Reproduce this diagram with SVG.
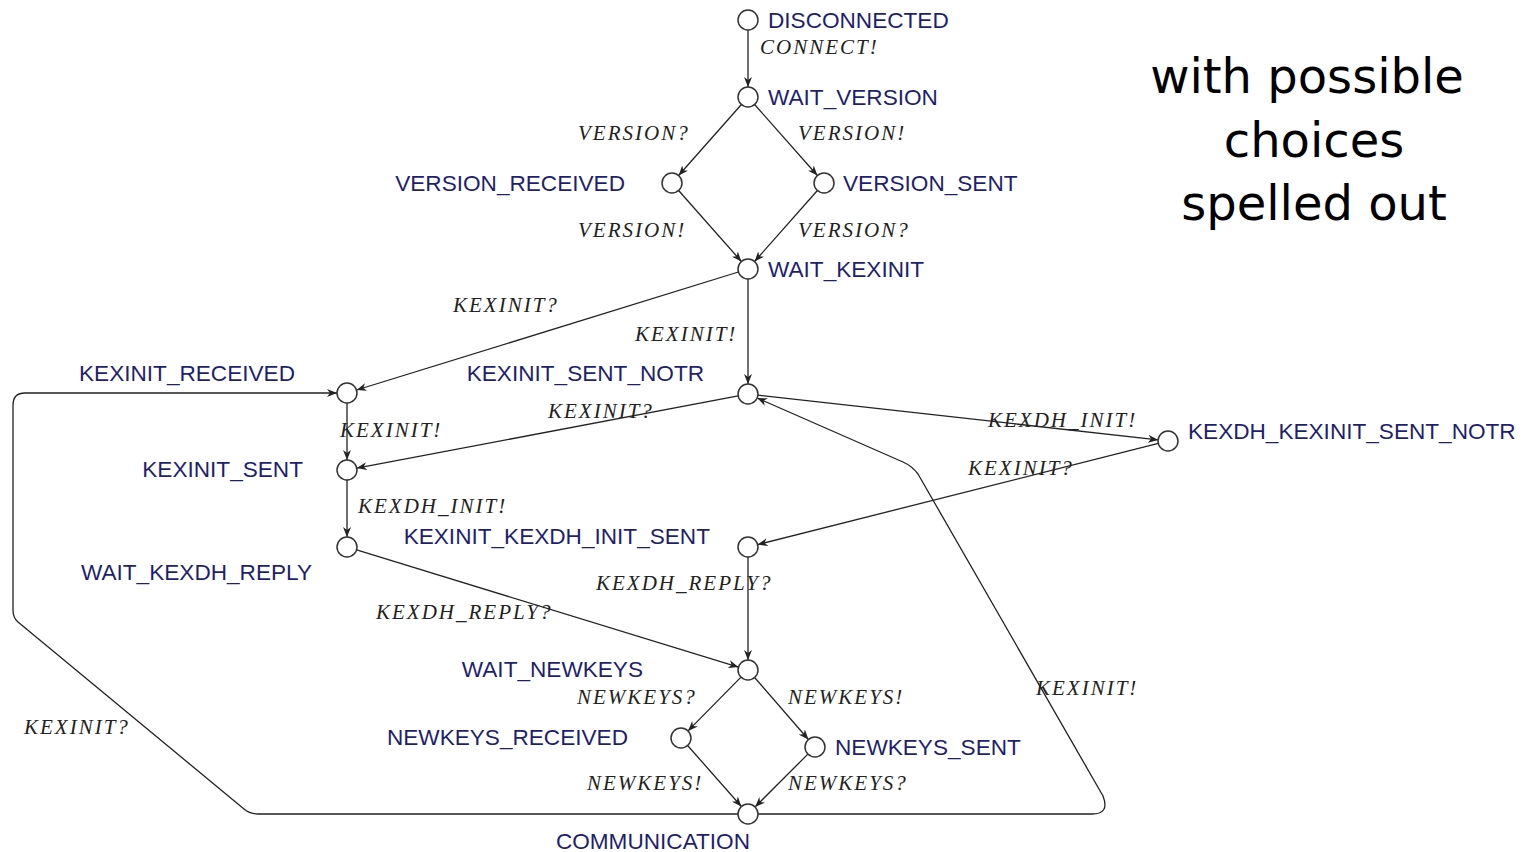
<svg xmlns="http://www.w3.org/2000/svg" width="1529" height="852" viewBox="0 0 1529 852">
  <defs>
    <marker id="arr" viewBox="0 0 10 8" refX="10" refY="4" markerWidth="10" markerHeight="8" orient="auto" markerUnits="userSpaceOnUse">
      <path d="M0,0 L10,4 L0,8 L3,4 z" fill="#222"/>
    </marker>
    <style>
      .st { fill: #fff; stroke: #333; stroke-width: 1.5; }
      .nl { font-family: "Liberation Sans", Arial, sans-serif; font-size: 22.6px; fill: #1f1f6e; }
      .el { font-family: "Liberation Serif", "Times New Roman", serif; font-style: italic; font-size: 21px; letter-spacing: 2px; fill: #222; }
      .tr { fill: none; stroke: #222; stroke-width: 1.3; marker-end: url(#arr); }
      .note { font-family: "DejaVu Sans", sans-serif; font-size: 48px; fill: #000; text-anchor: middle; }
    </style>
  </defs>
  <rect width="1529" height="852" fill="#fff"/>

  <!-- transitions -->
  <g id="connectors">
    <line class="tr" x1="748" y1="30" x2="748" y2="87"/>
    <line class="tr" x1="741.4" y1="104.5" x2="678.6" y2="175.5"/>
    <line class="tr" x1="754.6" y1="104.5" x2="817.4" y2="175.5"/>
    <line class="tr" x1="678.6" y1="190.5" x2="741.4" y2="261.5"/>
    <line class="tr" x1="817.4" y1="190.5" x2="754.6" y2="261.5"/>
    <line class="tr" x1="738.4" y1="272" x2="356.6" y2="390"/>
    <line class="tr" x1="748" y1="279" x2="748" y2="384"/>
    <line class="tr" x1="347" y1="403" x2="347" y2="460"/>
    <line class="tr" x1="738.2" y1="395.9" x2="356.8" y2="468.1"/>
    <line class="tr" x1="757.9" y1="395.1" x2="1158.1" y2="439.9"/>
    <line class="tr" x1="1158.3" y1="443.4" x2="757.7" y2="544.6"/>
    <line class="tr" x1="347" y1="480" x2="347" y2="537"/>
    <line class="tr" x1="356.6" y1="549.9" x2="738.4" y2="667.1"/>
    <line class="tr" x1="748" y1="557" x2="748" y2="660"/>
    <line class="tr" x1="741" y1="677.1" x2="688" y2="730.9"/>
    <line class="tr" x1="754.6" y1="677.5" x2="808.4" y2="739.5"/>
    <line class="tr" x1="687.6" y1="745.5" x2="741.4" y2="806.5"/>
    <line class="tr" x1="807.9" y1="754.1" x2="755.1" y2="806.9"/>
    <!-- rekey loops from COMMUNICATION -->
    <path class="tr" d="M738,814 L258,814 Q250,814 244,809 L18,622 Q13,618 13,610 L13,405 Q13,393 25,393 L337,393"/>
    <path class="tr" d="M758,814 L1092,814 Q1110,814 1103,796 L918,474 Q912,466 903,462 L757.2,398"/>
  </g>

  <!-- transition labels -->
  <g id="edge-labels">
    <text class="el" x="760" y="54">CONNECT!</text>
    <text class="el" x="578" y="140">VERSION?</text>
    <text class="el" x="798" y="140">VERSION!</text>
    <text class="el" x="578" y="237">VERSION!</text>
    <text class="el" x="798" y="237">VERSION?</text>
    <text class="el" x="453" y="312">KEXINIT?</text>
    <text class="el" x="635" y="341">KEXINIT!</text>
    <text class="el" x="548" y="418">KEXINIT?</text>
    <text class="el" x="340" y="437">KEXINIT!</text>
    <text class="el" x="988" y="427">KEXDH_INIT!</text>
    <text class="el" x="968" y="475">KEXINIT?</text>
    <text class="el" x="358" y="513">KEXDH_INIT!</text>
    <text class="el" x="596" y="590">KEXDH_REPLY?</text>
    <text class="el" x="376" y="619">KEXDH_REPLY?</text>
    <text class="el" x="577" y="704">NEWKEYS?</text>
    <text class="el" x="788" y="704">NEWKEYS!</text>
    <text class="el" x="587" y="790">NEWKEYS!</text>
    <text class="el" x="788" y="790">NEWKEYS?</text>
    <text class="el" x="24" y="734">KEXINIT?</text>
    <text class="el" x="1036" y="695">KEXINIT!</text>
  </g>

  <!-- states -->
  <g id="DISCONNECTED"><circle class="st" cx="748" cy="20" r="10"/><text class="nl" x="768" y="28">DISCONNECTED</text></g>
  <g id="WAIT_VERSION"><circle class="st" cx="748" cy="97" r="10"/><text class="nl" x="768" y="105">WAIT_VERSION</text></g>
  <g id="VERSION_RECEIVED"><circle class="st" cx="672" cy="183" r="10"/><text class="nl" x="625" y="191" text-anchor="end">VERSION_RECEIVED</text></g>
  <g id="VERSION_SENT"><circle class="st" cx="824" cy="183" r="10"/><text class="nl" x="843" y="191">VERSION_SENT</text></g>
  <g id="WAIT_KEXINIT"><circle class="st" cx="748" cy="269" r="10"/><text class="nl" x="768" y="277">WAIT_KEXINIT</text></g>
  <g id="KEXINIT_RECEIVED"><circle class="st" cx="347" cy="393" r="10"/><text class="nl" x="295" y="381" text-anchor="end">KEXINIT_RECEIVED</text></g>
  <g id="KEXINIT_SENT_NOTR"><circle class="st" cx="748" cy="394" r="10"/><text class="nl" x="704" y="381" text-anchor="end">KEXINIT_SENT_NOTR</text></g>
  <g id="KEXINIT_SENT"><circle class="st" cx="347" cy="470" r="10"/><text class="nl" x="303" y="477" text-anchor="end">KEXINIT_SENT</text></g>
  <g id="KEXDH_KEXINIT_SENT_NOTR"><circle class="st" cx="1168" cy="441" r="10"/><text class="nl" x="1188" y="439">KEXDH_KEXINIT_SENT_NOTR</text></g>
  <g id="WAIT_KEXDH_REPLY"><circle class="st" cx="347" cy="547" r="10"/><text class="nl" x="312" y="580" text-anchor="end">WAIT_KEXDH_REPLY</text></g>
  <g id="KEXINIT_KEXDH_INIT_SENT"><circle class="st" cx="748" cy="547" r="10"/><text class="nl" x="710" y="544" text-anchor="end">KEXINIT_KEXDH_INIT_SENT</text></g>
  <g id="WAIT_NEWKEYS"><circle class="st" cx="748" cy="670" r="10"/><text class="nl" x="643" y="677" text-anchor="end">WAIT_NEWKEYS</text></g>
  <g id="NEWKEYS_RECEIVED"><circle class="st" cx="681" cy="738" r="10"/><text class="nl" x="628" y="745" text-anchor="end">NEWKEYS_RECEIVED</text></g>
  <g id="NEWKEYS_SENT"><circle class="st" cx="815" cy="747" r="10"/><text class="nl" x="835" y="755">NEWKEYS_SENT</text></g>
  <g id="COMMUNICATION"><circle class="st" cx="748" cy="814" r="10"/><text class="nl" x="750" y="849" text-anchor="end">COMMUNICATION</text></g>

  <!-- side note -->
  <g id="note">
    <text class="note" x="1307" y="93">with possible</text>
    <text class="note" x="1314" y="157">choices</text>
    <text class="note" x="1314" y="220">spelled out</text>
  </g>
</svg>
